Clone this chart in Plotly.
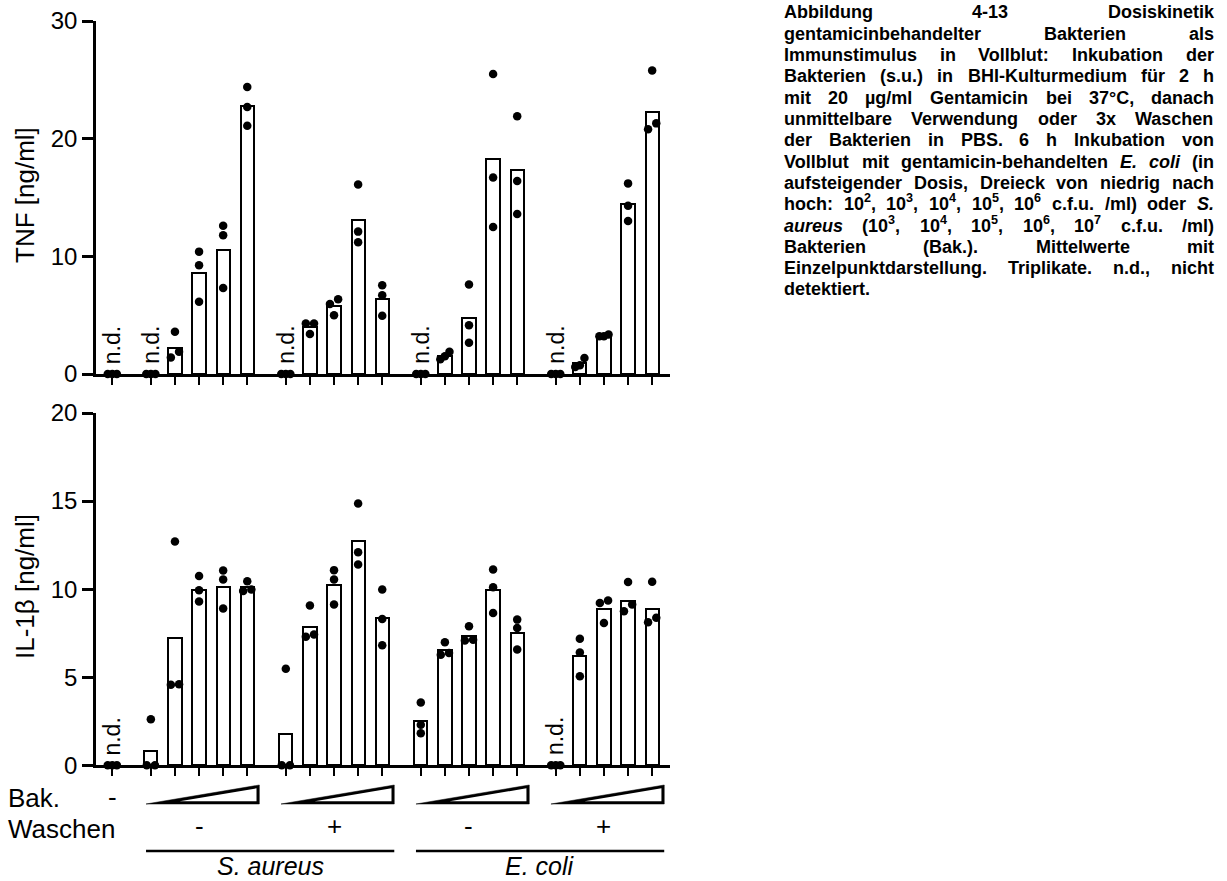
import re
import math
import plotly.graph_objects as go

W, H = 1227, 881
FONT = "Liberation Sans, Arial, sans-serif"

# ---------------- data ----------------
group_species = ["S. aureus", "S. aureus", "E. coli", "E. coli"]
group_washing = ["-", "+", "-", "+"]
doses = 5
category_labels = ["Kontrolle"] + [f"{sp} Waschen {wa} Dosis {d + 1}"
                                   for sp, wa in zip(group_species, group_washing)
                                   for d in range(doses)]

# TNF [ng/ml] : bar = mean, points = triplicates (0 = n.d.)
tnf_mean = [0,
            0, 2.25, 8.6, 10.55, 22.75,
            0, 4.0, 5.75, 13.05, 6.4,
            0, 1.55, 4.75, 18.25, 17.3,
            0, 0.9, 3.3, 14.45, 22.25]
tnf_points = [[0, 0, 0],
              [0, 0, 0], [3.6, 1.9, 1.4], [10.4, 9.25, 6.15], [12.6, 11.8, 7.3], [24.4, 22.7, 21.1],
              [0, 0, 0], [4.3, 4.3, 3.4], [6.35, 5.95, 5.0], [16.1, 12.1, 11.2], [7.55, 6.7, 4.95],
              [0, 0, 0], [1.9, 1.5, 1.25], [7.6, 4.15, 2.65], [25.5, 16.7, 12.5], [21.9, 16.4, 13.6],
              [0, 0, 0], [1.35, 0.75, 0.6], [3.35, 3.2, 3.2], [16.2, 14.3, 13.0], [25.8, 21.3, 20.8]]

# IL-1beta [ng/ml]
il1b_mean = [0,
             0.82, 7.25, 9.95, 10.15, 10.1,
             1.78, 7.85, 10.25, 12.75, 8.35,
             2.52, 6.53, 7.33, 9.93, 7.52,
             0, 6.2, 8.85, 9.33, 8.9]
il1b_points = [[0, 0, 0],
               [2.62, 0, 0], [12.7, 4.6, 4.57], [10.74, 9.94, 9.3], [11.06, 10.55, 8.9], [10.45, 9.98, 9.9],
               [5.48, 0, 0], [9.07, 7.42, 7.3], [11.08, 10.55, 9.13], [14.86, 12.1, 11.4], [9.98, 8.31, 6.81],
               [3.57, 2.3, 1.82], [6.98, 6.38, 6.28], [7.9, 7.13, 7.08], [11.12, 10.11, 8.65], [8.27, 7.8, 6.57],
               [0, 0, 0], [7.19, 6.41, 5.05], [9.35, 9.22, 8.08], [10.4, 9.13, 8.75], [10.42, 8.37, 8.12]]

tnf_ticks = [0, 10, 20, 30]
il1b_ticks = [0, 5, 10, 15, 20]
tnf_title = "TNF [ng/ml]"
il1b_title = "IL-1β [ng/ml]"
nd_label = "n.d."

caption_lines = [
    ["Abbildung", "4-13", "Dosiskinetik"],
    ["gentamicinbehandelter", "Bakterien", "als"],
    ["Immunstimulus", "in", "Vollblut:", "Inkubation", "der"],
    ["Bakterien", "(s.u.)", "in", "BHI-Kulturmedium", "für", "2", "h"],
    ["mit", "20", "µg/ml", "Gentamicin", "bei", "37°C,", "danach"],
    ["unmittelbare", "Verwendung", "oder", "3x", "Waschen"],
    ["der", "Bakterien", "in", "PBS.", "6", "h", "Inkubation", "von"],
    ["Vollblut", "mit", "gentamicin-behandelten", "<i>E.</i>", "<i>coli</i>", "(in"],
    ["aufsteigender", "Dosis,", "Dreieck", "von", "niedrig", "nach"],
    ["hoch:", "10<sup>2</sup>,", "10<sup>3</sup>,", "10<sup>4</sup>,", "10<sup>5</sup>,", "10<sup>6</sup>",
     "c.f.u.", "/ml)", "oder", "<i>S.</i>"],
    ["<i>aureus</i>", "(10<sup>3</sup>,", "10<sup>4</sup>,", "10<sup>5</sup>,", "10<sup>6</sup>,", "10<sup>7</sup>",
     "c.f.u.", "/ml)"],
    ["Bakterien", "(Bak.).", "Mittelwerte", "mit"],
    ["Einzelpunktdarstellung.", "Triplikate.", "n.d.,", "nicht"],
    ["detektiert."],
]

# ---------------- geometry ----------------
GAP = 1.6
positions = [0.0] + [GAP + g * (doses - 1 + GAP) + d for g in range(4) for d in range(doses)]
XMIN, XMAX = -0.676, 23.14
X_L, X_R = 96, 670          # px of the x axis
PPU = (X_R - X_L) / (XMAX - XMIN)
TOP_Y0, TOP_Y1 = 374, 21     # px of y=0 / y=30 (top)
BOT_Y0, BOT_Y1 = 765.3, 413  # px of y=0 / y=20 (bottom)


def py(p):
    return 1 - p / H


def pxx(p):
    return p / W


def offsets(vals, px_per_unit, thr=8.0):
    order = sorted(range(len(vals)), key=lambda i: vals[i])
    clusters = []
    for i in order:
        if clusters and abs(vals[i] - vals[clusters[-1][-1]]) * px_per_unit < thr:
            clusters[-1].append(i)
        else:
            clusters.append([i])
    off = [0.0] * len(vals)
    for c in clusters:
        if len(c) == 2:
            off[c[0]], off[c[1]] = -0.17, 0.17
        elif len(c) >= 3:
            for k, i in enumerate(c):
                off[i] = (k - (len(c) - 1) / 2) * 0.19
    return off


fig = go.Figure()
annotations = []

panels = [
    ("x", "y", tnf_mean, tnf_points, (TOP_Y0 - TOP_Y1) / 30.0),
    ("x2", "y2", il1b_mean, il1b_points, (BOT_Y0 - BOT_Y1) / 20.0),
]
for xa, ya, means, pts, ppu in panels:
    bar_y = [m if m > 0 else None for m in means]
    fig.add_trace(go.Bar(
        x=positions, y=bar_y, width=0.55, xaxis=xa, yaxis=ya,
        marker=dict(color="white", line=dict(color="black", width=2)),
        hovertext=category_labels, showlegend=False))
    sx, sy = [], []
    for pos, vals in zip(positions, pts):
        off = offsets(vals, ppu)
        for v, o in zip(vals, off):
            sx.append(pos + o)
            sy.append(v)
    fig.add_trace(go.Scatter(
        x=sx, y=sy, mode="markers", xaxis=xa, yaxis=ya, cliponaxis=False,
        marker=dict(color="black", size=8.5, line=dict(width=0)), showlegend=False))
    for pos, m in zip(positions, means):
        if m == 0:
            annotations.append(dict(
                x=pos, y=0, xref=xa, yref=ya, text=nd_label, textangle=-90,
                showarrow=False, xanchor="center", yanchor="bottom", yshift=9,
                borderpad=0, font=dict(family=FONT, size=23, color="black")))

axis_common = dict(showline=True, linecolor="black", linewidth=2.5, showgrid=False,
                   zeroline=False, ticks="outside", tickcolor="black", fixedrange=True,
                   automargin=False)
xdom = [pxx(X_L), pxx(X_R)]
fig.update_layout(
    width=W, height=H, margin=dict(l=0, r=0, t=0, b=0, pad=0, autoexpand=False),
    plot_bgcolor="white", paper_bgcolor="white", showlegend=False,
    bargap=0,
    xaxis=dict(domain=xdom, range=[XMIN, XMAX], anchor="y", tickvals=positions,
               showticklabels=False, ticklen=8, tickwidth=2, **axis_common),
    xaxis2=dict(domain=xdom, range=[XMIN, XMAX], anchor="y2", tickvals=positions,
                showticklabels=False, ticklen=8, tickwidth=2, **axis_common),
    yaxis=dict(domain=[py(TOP_Y0), py(TOP_Y1)], range=[0, 30], anchor="x",
               tickvals=tnf_ticks, ticklen=11, tickwidth=2.5,
               tickfont=dict(family=FONT, size=24, color="black"), **axis_common),
    yaxis2=dict(domain=[py(BOT_Y0), py(BOT_Y1)], range=[0, 20], anchor="x2",
                tickvals=il1b_ticks, ticklen=11, tickwidth=2.5,
                tickfont=dict(family=FONT, size=24, color="black"), **axis_common),
)

# y axis titles
annotations.append(dict(x=pxx(25), y=py(195), xref="paper", yref="paper", text=tnf_title,
                        textangle=-90, showarrow=False, xanchor="center", yanchor="middle",
                        font=dict(family=FONT, size=26, color="black")))
annotations.append(dict(x=pxx(25), y=py(587), xref="paper", yref="paper", text=il1b_title,
                        textangle=-90, showarrow=False, xanchor="center", yanchor="middle",
                        font=dict(family=FONT, size=26, color="black")))

# row labels below the x axis
for txt, yy in [("Bak.", 798), ("Waschen", 829)]:
    annotations.append(dict(x=pxx(7), y=py(yy), xref="paper", yref="paper", text=txt,
                            showarrow=False, xanchor="left", yanchor="middle", borderpad=0,
                            font=dict(family=FONT, size=26, color="black")))
annotations.append(dict(x=positions[0], y=py(797), xref="x2", yref="paper", text="-",
                        showarrow=False, xanchor="center", yanchor="middle",
                        font=dict(family=FONT, size=26, color="black")))

shapes = []
W_TOP, W_BOT, W_T = 785, 804, 2.8


def wedge_paths(x0, x1):
    # outer (black) triangle and inner (white) triangle, in x2-units / paper-y
    wd = (x1 - x0) * PPU
    s = (W_BOT - W_TOP) / wd
    k = math.sqrt(1 + s * s)
    outer = f"M {x0},{py(W_BOT)} L {x1},{py(W_BOT)} L {x1},{py(W_TOP)} Z"
    xi0 = x0 + W_T * (1 + k) / s / PPU
    xi1 = x1 - W_T / PPU
    yi_top = W_BOT + W_T * k - s * (wd - W_T)
    inner = (f"M {xi0},{py(W_BOT - W_T)} L {xi1},{py(W_BOT - W_T)} "
             f"L {xi1},{py(yi_top)} Z")
    return outer, inner


for g in range(4):
    first = positions[1 + g * doses]
    last = positions[(g + 1) * doses]
    x0, x1 = first - 0.2, last + 0.5
    outer, inner = wedge_paths(x0, x1)
    shapes.append(dict(type="path", xref="x2", yref="paper", path=outer,
                       line=dict(color="black", width=0.5), fillcolor="black"))
    shapes.append(dict(type="path", xref="x2", yref="paper", path=inner,
                       line=dict(width=0), fillcolor="white"))
    annotations.append(dict(x=(first + last) / 2, y=py(826), xref="x2", yref="paper",
                            text=group_washing[g], showarrow=False, xanchor="center",
                            yanchor="middle", font=dict(family=FONT, size=26, color="black")))

for sp in ["S. aureus", "E. coli"]:
    idx = [g for g in range(4) if group_species[g] == sp]
    first = positions[1 + idx[0] * doses]
    last = positions[(idx[-1] + 1) * doses]
    x0, x1 = first - 0.2, last + 0.5
    shapes.append(dict(type="line", xref="x2", yref="paper", x0=x0, x1=x1,
                       y0=py(851), y1=py(851), line=dict(color="black", width=2.5)))
    annotations.append(dict(x=(x0 + x1) / 2, y=py(880.5), xref="x2", yref="paper",
                            text=f"<i>{sp}</i>", showarrow=False, xanchor="center",
                            yanchor="bottom", borderpad=0,
                            font=dict(family=FONT, size=25, color="black")))

# ---------------- justified caption ----------------
CW = {' ': 278, '(': 333, ')': 333, ',': 278, '-': 333, '.': 278, '/': 278, ':': 333,
      '°': 400, 'µ': 611, 'ü': 611,
      'A': 722, 'B': 722, 'C': 722, 'D': 722, 'E': 667, 'F': 611, 'G': 778, 'H': 722, 'I': 278,
      'J': 556, 'K': 722, 'L': 611, 'M': 833, 'N': 722, 'O': 778, 'P': 667, 'Q': 778, 'R': 722,
      'S': 667, 'T': 611, 'U': 722, 'V': 667, 'W': 944, 'X': 667, 'Y': 667, 'Z': 611,
      'a': 556, 'b': 611, 'c': 556, 'd': 611, 'e': 556, 'f': 333, 'g': 611, 'h': 611, 'i': 278,
      'j': 278, 'k': 556, 'l': 278, 'm': 889, 'n': 611, 'o': 611, 'p': 611, 'q': 611, 'r': 389,
      's': 556, 't': 333, 'u': 611, 'v': 556, 'w': 778, 'x': 556, 'y': 556, 'z': 500}
for d in "0123456789":
    CW[d] = 556


def text_width(s, size):
    tot, sup = 0.0, False
    for tok in re.split(r"(<[^>]+>)", s):
        if tok.startswith("<"):
            if tok == "<sup>":
                sup = True
            elif tok == "</sup>":
                sup = False
            continue
        for ch in tok:
            tot += CW.get(ch, 556) * (0.7 if sup else 1.0)
    return tot / 1000.0 * size


CAP_FS = 18
CAP_L, CAP_R = 783, 1213
CAP_BOTTOM0, CAP_LH = 23.5, 21.3
for i, words in enumerate(caption_lines):
    widths = [text_width(w, CAP_FS) for w in words]
    last_line = i == len(caption_lines) - 1
    if len(words) > 1 and not last_line:
        gap = (CAP_R - CAP_L - sum(widths)) / (len(words) - 1)
    else:
        gap = text_width(" ", CAP_FS)
    xcur = CAP_L
    for w, wd in zip(words, widths):
        annotations.append(dict(x=pxx(xcur), y=py(CAP_BOTTOM0 + CAP_LH * i), xref="paper",
                                yref="paper", text=f"<b>{w}</b>", showarrow=False,
                                xanchor="left", yanchor="bottom", borderpad=0,
                                font=dict(family=FONT, size=CAP_FS, color="black")))
        xcur += wd + gap

fig.update_layout(annotations=annotations, shapes=shapes)
fig.write_html("out.html")
